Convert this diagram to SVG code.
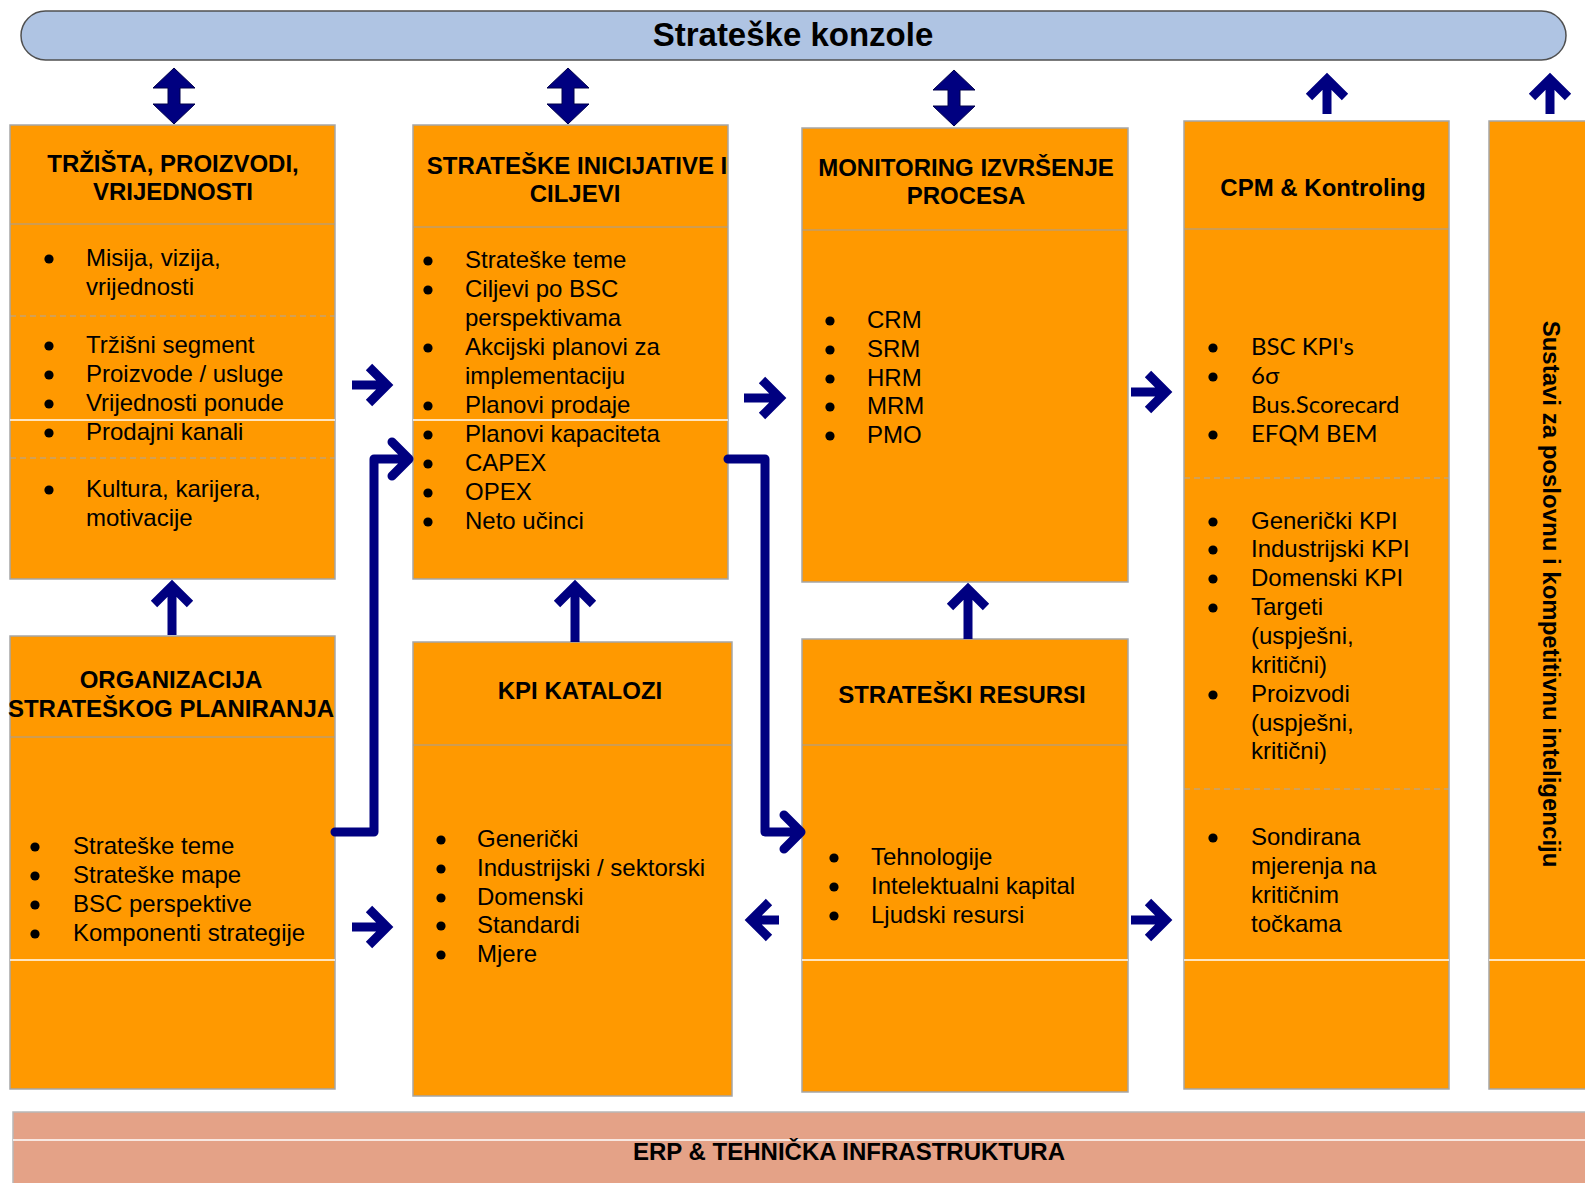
<svg xmlns="http://www.w3.org/2000/svg" width="1585" height="1183" viewBox="0 0 1585 1183">
<style>
.box{fill:#FF9900;stroke:#A6A6A6;stroke-width:1.5}
.hd{stroke:#A0A0A0;stroke-width:1.2}
.ds{stroke:#A8A8A8;stroke-width:1.2;stroke-dasharray:6 4}
.wl{stroke:#FFFFFF;stroke-width:1.5}
.h{font-family:"Liberation Sans",Arial,sans-serif;font-weight:bold;font-size:24px;fill:#000;text-anchor:middle}
.t{font-family:"Liberation Sans",Arial,sans-serif;font-size:24px;fill:#000}
.g{font-family:Lato,"Liberation Sans",sans-serif;font-size:24px;fill:#000}
.b{fill:#000}
.arr{fill:none;stroke:#000080;stroke-width:9;stroke-linejoin:miter;stroke-linecap:butt}
.elb{fill:none;stroke:#000080;stroke-width:9;stroke-linejoin:round;stroke-linecap:round}
.dbl{fill:#000080;stroke:#00004A;stroke-width:1}
</style>

<g id="konzole">
<rect x="21" y="11" width="1545" height="49" rx="24.5" ry="24.5" fill="#AFC4E3" stroke="#505050" stroke-width="1.5"/>
<text x="793" y="46" class="h" style="font-size:33px">Strateške konzole</text>
</g>

<g id="trzista">
<rect class="box" x="10" y="125" width="325" height="454"/>
<line class="hd" x1="10" y1="224" x2="335" y2="224"/>
<line class="ds" x1="10" y1="316" x2="335" y2="316"/>
<line class="wl" x1="10" y1="420" x2="335" y2="420"/>
<line class="ds" x1="10" y1="458" x2="335" y2="458"/>
<text class="h" x="173" y="172">TRŽIŠTA, PROIZVODI,</text>
<text class="h" x="173" y="200">VRIJEDNOSTI</text>
<circle class="b" cx="49" cy="259" r="4.6"/><text class="t" x="86" y="266">Misija, vizija,</text>
<text class="t" x="86" y="295">vrijednosti</text>
<circle class="b" cx="49" cy="346" r="4.6"/><text class="t" x="86" y="353">Tržišni segment</text>
<circle class="b" cx="49" cy="375" r="4.6"/><text class="t" x="86" y="382">Proizvode / usluge</text>
<circle class="b" cx="49" cy="404" r="4.6"/><text class="t" x="86" y="411">Vrijednosti ponude</text>
<circle class="b" cx="49" cy="433" r="4.6"/><text class="t" x="86" y="440">Prodajni kanali</text>
<circle class="b" cx="49" cy="490" r="4.6"/><text class="t" x="86" y="497">Kultura, karijera,</text>
<text class="t" x="86" y="526">motivacije</text>
</g>

<g id="inicijative">
<rect class="box" x="413" y="125" width="315" height="454"/>
<line class="hd" x1="413" y1="227" x2="728" y2="227"/>
<line class="wl" x1="413" y1="420" x2="728" y2="420"/>
<text class="h" x="577" y="174">STRATEŠKE INICIJATIVE I</text>
<text class="h" x="575" y="202">CILJEVI</text>
<circle class="b" cx="428" cy="261" r="4.6"/><text class="t" x="465" y="268">Strateške teme</text>
<circle class="b" cx="428" cy="290" r="4.6"/><text class="t" x="465" y="297">Ciljevi po BSC</text>
<text class="t" x="465" y="326">perspektivama</text>
<circle class="b" cx="428" cy="348" r="4.6"/><text class="t" x="465" y="355">Akcijski planovi za</text>
<text class="t" x="465" y="384">implementaciju</text>
<circle class="b" cx="428" cy="406" r="4.6"/><text class="t" x="465" y="413">Planovi prodaje</text>
<circle class="b" cx="428" cy="435" r="4.6"/><text class="t" x="465" y="442">Planovi kapaciteta</text>
<circle class="b" cx="428" cy="464" r="4.6"/><text class="t" x="465" y="471">CAPEX</text>
<circle class="b" cx="428" cy="493" r="4.6"/><text class="t" x="465" y="500">OPEX</text>
<circle class="b" cx="428" cy="522" r="4.6"/><text class="t" x="465" y="529">Neto učinci</text>
</g>

<g id="monitoring">
<rect class="box" x="802" y="128" width="326" height="454"/>
<line class="hd" x1="802" y1="230" x2="1128" y2="230"/>
<text class="h" x="966" y="176">MONITORING IZVRŠENJE</text>
<text class="h" x="966" y="204">PROCESA</text>
<circle class="b" cx="830" cy="321" r="4.6"/><text class="t" x="867" y="328">CRM</text>
<circle class="b" cx="830" cy="350" r="4.6"/><text class="t" x="867" y="357">SRM</text>
<circle class="b" cx="830" cy="379" r="4.6"/><text class="t" x="867" y="386">HRM</text>
<circle class="b" cx="830" cy="407" r="4.6"/><text class="t" x="867" y="414">MRM</text>
<circle class="b" cx="830" cy="436" r="4.6"/><text class="t" x="867" y="443">PMO</text>
</g>

<g id="cpm">
<rect class="box" x="1184" y="121" width="265" height="968"/>
<line class="hd" x1="1184" y1="229" x2="1449" y2="229"/>
<line class="ds" x1="1184" y1="478" x2="1449" y2="478"/>
<line class="ds" x1="1184" y1="789" x2="1449" y2="789"/>
<line class="wl" x1="1184" y1="960" x2="1449" y2="960"/>
<text class="h" x="1323" y="196">CPM &amp; Kontroling</text>
<circle class="b" cx="1213" cy="348" r="4.6"/><text class="g" x="1251" y="355">BSC KPI's</text>
<circle class="b" cx="1213" cy="377" r="4.6"/><text class="g" x="1251" y="384">6σ</text>
<text class="g" x="1251" y="413">Bus.Scorecard</text>
<circle class="b" cx="1213" cy="435" r="4.6"/><text class="g" x="1251" y="442">EFQM BEM</text>
<circle class="b" cx="1213" cy="522" r="4.6"/><text class="t" x="1251" y="529">Generički KPI</text>
<circle class="b" cx="1213" cy="550" r="4.6"/><text class="t" x="1251" y="557">Industrijski KPI</text>
<circle class="b" cx="1213" cy="579" r="4.6"/><text class="t" x="1251" y="586">Domenski KPI</text>
<circle class="b" cx="1213" cy="608" r="4.6"/><text class="t" x="1251" y="615">Targeti</text>
<text class="t" x="1251" y="644">(uspješni,</text>
<text class="t" x="1251" y="673">kritični)</text>
<circle class="b" cx="1213" cy="695" r="4.6"/><text class="t" x="1251" y="702">Proizvodi</text>
<text class="t" x="1251" y="731">(uspješni,</text>
<text class="t" x="1251" y="759">kritični)</text>
<circle class="b" cx="1213" cy="838" r="4.6"/><text class="t" x="1251" y="845">Sondirana</text>
<text class="t" x="1251" y="874">mjerenja na</text>
<text class="t" x="1251" y="903">kritičnim</text>
<text class="t" x="1251" y="932">točkama</text>
</g>

<g id="sustavi">
<rect class="box" x="1489" y="121" width="110" height="968"/>
<line class="wl" x1="1489" y1="960" x2="1585" y2="960"/>
<text class="h" transform="translate(1543,594) rotate(90)">Sustavi za poslovnu i kompetitivnu inteligenciju</text>
</g>

<g id="organizacija">
<rect class="box" x="10" y="636" width="325" height="453"/>
<line class="hd" x1="10" y1="737" x2="335" y2="737"/>
<line class="wl" x1="10" y1="960" x2="335" y2="960"/>
<text class="h" x="171" y="688">ORGANIZACIJA</text>
<text class="h" x="171" y="717">STRATEŠKOG PLANIRANJA</text>
<circle class="b" cx="35" cy="847" r="4.6"/><text class="t" x="73" y="854">Strateške teme</text>
<circle class="b" cx="35" cy="876" r="4.6"/><text class="t" x="73" y="883">Strateške mape</text>
<circle class="b" cx="35" cy="905" r="4.6"/><text class="t" x="73" y="912">BSC perspektive</text>
<circle class="b" cx="35" cy="934" r="4.6"/><text class="t" x="73" y="941">Komponenti strategije</text>
</g>

<g id="kpi">
<rect class="box" x="413" y="642" width="319" height="454"/>
<line class="hd" x1="413" y1="745" x2="732" y2="745"/>
<text class="h" x="580" y="699">KPI KATALOZI</text>
<circle class="b" cx="441" cy="840" r="4.6"/><text class="t" x="477" y="847">Generički</text>
<circle class="b" cx="441" cy="869" r="4.6"/><text class="t" x="477" y="876">Industrijski / sektorski</text>
<circle class="b" cx="441" cy="898" r="4.6"/><text class="t" x="477" y="905">Domenski</text>
<circle class="b" cx="441" cy="926" r="4.6"/><text class="t" x="477" y="933">Standardi</text>
<circle class="b" cx="441" cy="955" r="4.6"/><text class="t" x="477" y="962">Mjere</text>
</g>

<g id="resursi">
<rect class="box" x="802" y="639" width="326" height="453"/>
<line class="hd" x1="802" y1="745" x2="1128" y2="745"/>
<line class="wl" x1="802" y1="960" x2="1128" y2="960"/>
<text class="h" x="962" y="703">STRATEŠKI RESURSI</text>
<circle class="b" cx="834" cy="858" r="4.6"/><text class="t" x="871" y="865">Tehnologije</text>
<circle class="b" cx="834" cy="887" r="4.6"/><text class="t" x="871" y="894">Intelektualni kapital</text>
<circle class="b" cx="834" cy="916" r="4.6"/><text class="t" x="871" y="923">Ljudski resursi</text>
</g>

<g id="erp">
<rect x="13" y="1112" width="1590" height="90" fill="#E4A287" stroke="#B8B8B8" stroke-width="1.5"/>
<line class="wl" x1="13" y1="1140" x2="1585" y2="1140"/>
<text class="h" x="849" y="1160">ERP &amp; TEHNIČKA INFRASTRUKTURA</text>
</g>

<g id="connectors">
<polygon class="dbl" transform="translate(174,96)" points="0,-28 21,-8 6,-8 6,8 21,8 0,28 -21,8 -6,8 -6,-8 -21,-8"/>
<polygon class="dbl" transform="translate(568,96)" points="0,-28 21,-8 6,-8 6,8 21,8 0,28 -21,8 -6,8 -6,-8 -21,-8"/>
<polygon class="dbl" transform="translate(954,98)" points="0,-28 21,-8 6,-8 6,8 21,8 0,28 -21,8 -6,8 -6,-8 -21,-8"/>
<path class="arr" d="M1327 114 V79 M1309 97 L1327 79 L1345 97"/>
<path class="arr" d="M1550 114 V79 M1532 97 L1550 79 L1568 97"/>
<path class="arr" d="M172 635 V586 M154 604 L172 586 L190 604"/>
<path class="arr" d="M575 642 V586 M557 604 L575 586 L593 604"/>
<path class="arr" d="M968 639 V589 M950 607 L968 589 L986 607"/>
<path class="arr" d="M352 385 H387 M369 367 L387 385 L369 403"/>
<path class="arr" d="M744 398 H780 M762 380 L780 398 L762 416"/>
<path class="arr" d="M1131 392 H1166 M1148 374 L1166 392 L1148 410"/>
<path class="arr" d="M352 927 H387 M369 909 L387 927 L369 945"/>
<path class="arr" d="M779 920 H751 M769 902 L751 920 L769 938"/>
<path class="arr" d="M1131 920 H1166 M1148 902 L1166 920 L1148 938"/>
<path class="elb" d="M335 832 H374 V459 H408 M392 442 L409 459 L392 476"/>
<path class="elb" d="M728 459 H765 V832 H799 M784 815 L801 832 L784 849"/>
</g>
</svg>
